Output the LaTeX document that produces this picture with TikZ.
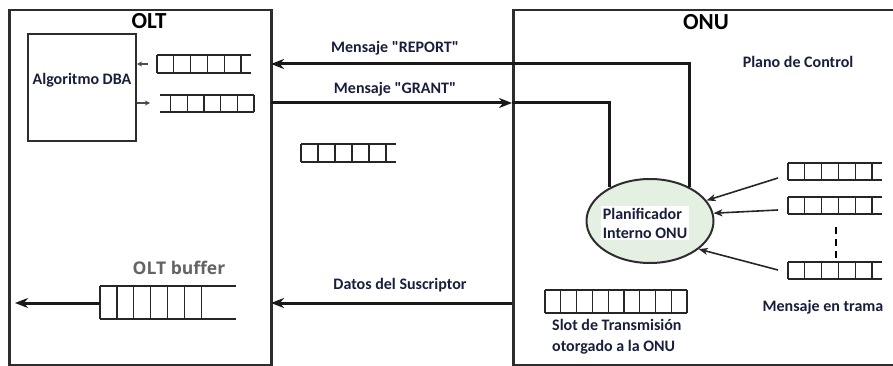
\documentclass[tikz,border=0pt]{standalone}
\usepackage{fontspec}
\setmainfont{Carlito}[Ligatures=TeXOff]
\newfontfamily\bufferfont{Open Sans}
\usetikzlibrary{arrows.meta,shapes.geometric}
\definecolor{ink}{RGB}{24,30,60}
\definecolor{framegray}{RGB}{45,45,45}
\definecolor{mint}{RGB}{228,241,226}
\definecolor{buffergray}{RGB}{100,100,100}

% queue row: line start x, line end x, first divider x, divider step, last divider index, top y, bottom y
\newcommand\qrow[7]{%
  \draw[qline] (#1,#6) -- (#2,#6) (#1,#7) -- (#2,#7);
  \foreach \k in {0,...,#5} \draw[qline] ({#3+\k*#4},#6) -- ({#3+\k*#4},#7);
}

\begin{document}
\begin{tikzpicture}[x=1pt,y=-1pt,
  unitbox/.style={draw=framegray, line width=2.5pt, inner sep=0pt},
  dbabox/.style={draw=framegray, line width=2pt, inner sep=0pt},
  title/.style={font=\bfseries\fontsize{23}{25}\selectfont, text=black},
  lbl/.style={font=\bfseries\fontsize{16}{18}\selectfont, text=ink, inner sep=1pt},
  qline/.style={line width=1.2pt, draw=black!85},
  tip/.style={-{Stealth[length=13pt,width=10pt,inset=4pt]}},
  bigline/.style={line width=3pt, draw=black!90},
  feed/.style={line width=1.6pt, draw=black!85, -{Stealth[length=9pt,width=7pt,inset=2.5pt]}},
  small/.style={line width=1.5pt, draw=black!70, -{Stealth[length=5pt,width=5pt,inset=1.5pt]}}
]
\useasboundingbox (0,0) rectangle (893,366);

% the two units
\node[unitbox, anchor=north west, minimum width=262pt, minimum height=355pt] (olt) at (8,9) {};
\node[unitbox, anchor=north west, minimum width=400pt, minimum height=355pt] (onu) at (512,9) {};
\node[title] (oltt) at (149,21) {OLT};
\node[title] (onut) at (706,22) {ONU};

% OLT side: DBA block and its queues
\node[dbabox, anchor=north west, minimum width=108pt, minimum height=107pt] (dba) at (27,33) {};
\node[lbl] (dbat) at (82,80) {Algoritmo DBA};
\qrow{157}{251}{157}{16.8}{5}{55}{73}
\qrow{160}{254}{170.5}{16.7}{5}{95}{112}
\coordinate (q1w) at (148,64);
\coordinate (q2w) at (150,103);
\draw[small] (q1w) -- (dba.east |- q1w);
\draw[small] (dba.east |- q2w) -- (q2w);

\qrow{301}{396}{301}{17}{5}{144}{162}

% OLT buffer
\node[font=\bufferfont\bfseries\fontsize{17.5}{20}\selectfont, text=buffergray] (buft) at (179,268) {OLT buffer};
\qrow{100}{236}{100}{16.9}{6}{286}{319}
\coordinate (bufw) at (100,303);
\coordinate (outw) at (15,303);
\draw[bigline, tip] (bufw) -- (outw);

% ONU scheduler
\node[ellipse, draw=framegray, line width=2pt, fill=mint, minimum width=127pt, minimum height=84pt] (plan) at (650,221) {};
\node[lbl, fill=white, align=left, font=\bfseries\fontsize{16}{19}\selectfont, inner sep=2pt] (plant) at (645,223) {Planificador\\Interno ONU};

\node[lbl] (ctrl) at (798,62) {Plano de Control};

% control messages between OLT and ONU
\coordinate (rep) at (689,187);
\coordinate (gra) at (609,187);
\coordinate (repw) at (271,64);
\coordinate (graw) at (271,103);
\coordinate (grae) at (512,103);
\draw[bigline, tip] (rep) |- (repw);
\draw[bigline, tip] (graw) -- (grae);
\draw[bigline] (grae) -| (gra);
\node[lbl] (rept) at (395,48) {Mensaje "REPORT"};
\node[lbl] (grat) at (395,89) {Mensaje "GRANT"};

% upstream data
\coordinate (datae) at (512,303);
\coordinate (dataw) at (271,303);
\draw[bigline, tip] (datae) -- (dataw);
\node[lbl] (datat) at (400,285) {Datos del Suscriptor};

% frame queues feeding the scheduler
\qrow{788}{882}{788}{16.8}{5}{163}{180}
\qrow{788}{882}{788}{16.8}{5}{197}{214}
\qrow{788}{882}{788}{16.8}{5}{262}{279}
\draw[line width=1.3pt, dashed, dash pattern=on 7pt off 5pt] (836,227) -- (836,258);
\coordinate (fa) at (778,178);
\coordinate (fb) at (778,210);
\coordinate (fc) at (778,270);
\draw[feed] (fa) -- (plan.20);
\draw[feed] (fb) -- (plan.7);
\draw[feed] (fc) -- (plan.-30);
\node[lbl] (tramat) at (823,307) {Mensaje en trama};

% granted transmission slot
\qrow{545}{687}{545}{15.78}{9}{290}{313}
\node[lbl, align=left, font=\bfseries\fontsize{16}{21}\selectfont, anchor=north west] (slott) at (551,318) {Slot de Transmisión\\otorgado a la ONU};
\end{tikzpicture}
\end{document}
